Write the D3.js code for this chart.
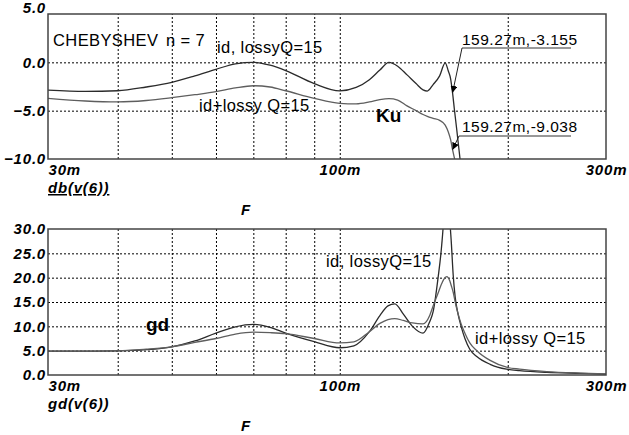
<!DOCTYPE html>
<meta charset="utf-8">
<head>
  <script src="https://d3js.org/d3.v7.min.js"></script>
</head>
<style>

body {
  margin: 0;
  background: #fff;
}

text {
  font-family: "Liberation Sans", Arial, Helvetica, sans-serif;
  fill: #000;
}

.axis-text {
  font-size: 15px;
  font-weight: bold;
  font-style: italic;
  letter-spacing: 0.8px;
}

.note {
  font-size: 16.5px;
  letter-spacing: 0.4px;
}

.cursor-note {
  font-size: 15.5px;
  letter-spacing: 0.5px;
}

.big-note {
  font-size: 19px;
  font-weight: bold;
}

.grid line {
  stroke: #000;
  stroke-dasharray: 2,2;
}

.grid path,
.axis path {
  display: none;
}

.frame {
  fill: none;
  stroke: #444;
  stroke-width: 1.5;
}

.curve {
  fill: none;
  stroke-width: 1.3;
}

</style>

<body>
<svg width="629" height="435" id="container"></svg>
<script>

// frequency sweep (Hz, shown as m = milli)
var freqTop = [30, 35, 40, 45, 50, 55, 60, 65, 70, 75, 80, 90, 100, 107, 113, 118, 122.5, 127, 132, 137, 141, 143.5, 147, 151, 154.5, 156.5, 158, 159.27, 160.5, 162, 163.6, 165];
// db(v(6)) for the ideal and the lossy filter
var kuIdeal = [-2.87, -3.0, -2.94, -2.55, -2.07, -1.4, -0.72, -0.15, 0, -0.3, -0.85, -2.2, -2.95, -2.6, -1.8, -0.8, 0, -0.4, -1.3, -2.2, -2.85, -2.97, -2.3, -1.4, -0.05, -0.9, -1.7, -3.155, -4.9, -6.9, -9.1, -11];
var kuLossy = [-3.72, -4.0, -4.1, -3.95, -3.66, -3.35, -3.04, -2.65, -2.42, -2.55, -2.94, -3.72, -4.24, -4.3, -4.1, -3.85, -3.75, -3.9, -4.5, -5.0, -5.4, -5.6, -5.8, -6.0, -6.5, -7.2, -8.0, -9.038, -9.9, -10.8, -11.5, -12];

var freqBottom = [30, 35, 40, 45, 50, 55, 60, 65, 70, 75, 80, 90, 100, 106, 113, 118, 122, 125.5, 130, 135, 141, 145, 147, 150, 152.3, 153.5, 155.5, 157.5, 158.5, 159.7, 161, 163, 165, 167.6, 171, 176, 186, 199, 210, 235, 270, 300];
// gd(v(6)) group delay
var gdIdeal = [4.9, 4.9, 4.95, 5.2, 5.8, 7.0, 8.6, 9.9, 10.4, 9.8, 8.6, 6.85, 5.6, 6.0, 8.9, 12.2, 14.2, 14.6, 12.5, 10, 8.6, 11, 13, 19.9, 26.7, 32, 50, 32, 27, 20.5, 16, 12.4, 10, 7.5, 5.3, 3.8, 2.2, 1.2, 0.9, 0.55, 0.35, 0.2];
var gdLossy = [4.9, 4.9, 4.95, 5.3, 5.8, 6.7, 7.5, 8.4, 8.8, 8.7, 8.5, 7.5, 6.6, 6.8, 8.9, 10.6, 11.4, 11.6, 11.2, 10.7, 10.5, 12.3, 14.2, 16.8, 18.8, 19.6, 20.2, 19.3, 18.3, 17.0, 15.0, 12.5, 10.5, 8.6, 6.6, 5.0, 3.0, 1.6, 1.2, 0.7, 0.4, 0.25];

var gridFreqs = [40, 50, 60, 70, 80, 90, 100, 200];
var freqTicks = [30, 100, 300];
var freqTickLabels = ['30m', '100m', '300m'];
var kuTicks = [5, 0, -5, -10];
var gdTicks = [30, 25, 20, 15, 10, 5, 0];
var cursorFreq = 159.27;
var cursorValues = [-3.155, -9.038];
var cursorLabels = ['159.27m,-3.155', '159.27m,-9.038'];

var svg = d3.select('#container');

var left = 48, right = 606;
var idColor = '#2b2b2b',
    lossyColor = '#5e5e5e';

var x = d3.scaleLog().domain([30, 300]).range([left, right]);

var fmt = d3.format('.1f');

function drawPanel(cfg) {
  var y = d3.scaleLinear().domain(cfg.domain).range([cfg.bottom, cfg.top]);
  var g = svg.append('g');
  var h = cfg.bottom - cfg.top;

  // dotted grid
  g.append('g')
   .attr('class', 'grid')
   .attr('transform', 'translate(0,' + cfg.bottom + ')')
   .call(d3.axisBottom(x).tickValues(gridFreqs).tickSize(-h).tickFormat(''));

  g.append('g')
   .attr('class', 'grid')
   .attr('transform', 'translate(' + left + ',0)')
   .call(d3.axisLeft(y).tickValues(cfg.ticks.slice(1, -1)).tickSize(-(right - left)).tickFormat(''));

  // curves, clipped to the plot box
  g.append('clipPath')
   .attr('id', cfg.id + '-clip')
   .append('rect')
   .attr('x', left)
   .attr('y', cfg.top)
   .attr('width', right - left)
   .attr('height', h);

  var line = d3.line()
               .x(function(d) { return x(d[0]); })
               .y(function(d) { return y(d[1]); })
               .curve(d3.curveMonotoneX);

  cfg.series.forEach(function(s) {
    g.append('path')
     .attr('class', 'curve')
     .attr('clip-path', 'url(#' + cfg.id + '-clip)')
     .attr('stroke', s.color)
     .attr('d', line(d3.zip(cfg.freqs, s.values)));
  });

  g.append('rect')
   .attr('class', 'frame')
   .attr('x', left)
   .attr('y', cfg.top)
   .attr('width', right - left)
   .attr('height', h);

  // y labels
  var yAxis = g.append('g')
               .attr('class', 'axis')
               .attr('transform', 'translate(' + left + ',0)')
               .call(d3.axisLeft(y).tickValues(cfg.ticks).tickSize(0).tickPadding(2).tickFormat(fmt));
  yAxis.selectAll('text').attr('class', 'axis-text');

  // x labels
  var xAxis = g.append('g')
               .attr('class', 'axis')
               .attr('transform', 'translate(0,' + cfg.bottom + ')')
               .call(d3.axisBottom(x).tickValues(freqTicks).tickSize(0).tickPadding(5)
                       .tickFormat(function(d, i) { return freqTickLabels[i]; }));
  xAxis.selectAll('text')
       .attr('class', 'axis-text')
       .style('text-anchor', function(d, i) { return i == 0 ? 'start' : 'middle'; });

  g.append('text')
   .attr('class', 'axis-text')
   .attr('x', left)
   .attr('y', cfg.bottom + 34)
   .attr('text-decoration', cfg.underline ? 'underline' : null)
   .text(cfg.yName);

  g.append('text')
   .attr('class', 'axis-text')
   .attr('x', 246)
   .attr('y', cfg.bottom + 56)
   .attr('text-anchor', 'middle')
   .text('F');

  return {g: g, y: y, yAxis: yAxis};
}

var topPanel = drawPanel({
  id: 'ku', top: 14, bottom: 159, domain: [-10, 5], ticks: kuTicks,
  freqs: freqTop, yName: 'db(v(6))', underline: true,
  series: [{values: kuIdeal, color: idColor}, {values: kuLossy, color: lossyColor}]
});

// the top label of the first plot sits a bit above its tick
topPanel.yAxis.selectAll('text').filter(function(d) { return d == 5; }).attr('dy', '-0.1em');

var bottomPanel = drawPanel({
  id: 'gd', top: 229, bottom: 375, domain: [0, 30], ticks: gdTicks,
  freqs: freqBottom, yName: 'gd(v(6))', underline: false,
  series: [{values: gdIdeal, color: idColor}, {values: gdLossy, color: lossyColor}]
});

// notes on both plots
var notes = [
  {g: topPanel.g, x: 53, y: 46, cls: 'note', t: 'CHEBYSHEV'},
  {g: topPanel.g, x: 166, y: 46, cls: 'note', t: 'n = 7'},
  {g: topPanel.g, x: 217, y: 53, cls: 'note', t: 'id, lossyQ=15'},
  {g: topPanel.g, x: 199, y: 111, cls: 'note', t: 'id+lossy Q=15'},
  {g: topPanel.g, x: 376, y: 122, cls: 'big-note', t: 'Ku'},
  {g: bottomPanel.g, x: 146, y: 331, cls: 'big-note', t: 'gd'},
  {g: bottomPanel.g, x: 326, y: 267, cls: 'note', t: 'id, lossyQ=15'},
  {g: bottomPanel.g, x: 475, y: 344, cls: 'note', t: 'id+lossy Q=15'}
];
notes.forEach(function(n) {
  n.g.append('text')
     .attr('class', n.cls)
     .attr('x', n.x)
     .attr('y', n.y)
     .text(n.t);
});

// cursor read-outs with leader arrows
svg.append('defs').append('marker')
   .attr('id', 'arrow')
   .attr('viewBox', '0 0 10 10')
   .attr('refX', 10)
   .attr('refY', 5)
   .attr('markerWidth', 7)
   .attr('markerHeight', 7)
   .attr('markerUnits', 'userSpaceOnUse')
   .attr('orient', 'auto')
   .append('path')
   .attr('d', 'M0,0L10,5L0,10z')
   .attr('fill', '#000');

var cursorBoxes = [{x: 462, y: 45, lineY: 48, lineX: 462}, {x: 462, y: 132, lineY: 136, lineX: 459}];
cursorValues.forEach(function(v, i) {
  var b = cursorBoxes[i];
  topPanel.g.append('text')
       .attr('class', 'cursor-note')
       .attr('x', b.x)
       .attr('y', b.y)
       .text(cursorLabels[i]);
  topPanel.g.append('line')
       .attr('x1', b.lineX).attr('y1', b.lineY)
       .attr('x2', 571).attr('y2', b.lineY)
       .attr('stroke', '#333');
  topPanel.g.append('line')
       .attr('x1', b.lineX).attr('y1', b.lineY)
       .attr('x2', x(cursorFreq)).attr('y2', topPanel.y(v))
       .attr('stroke', '#222')
       .attr('marker-end', 'url(#arrow)');
});

</script>
</body>
